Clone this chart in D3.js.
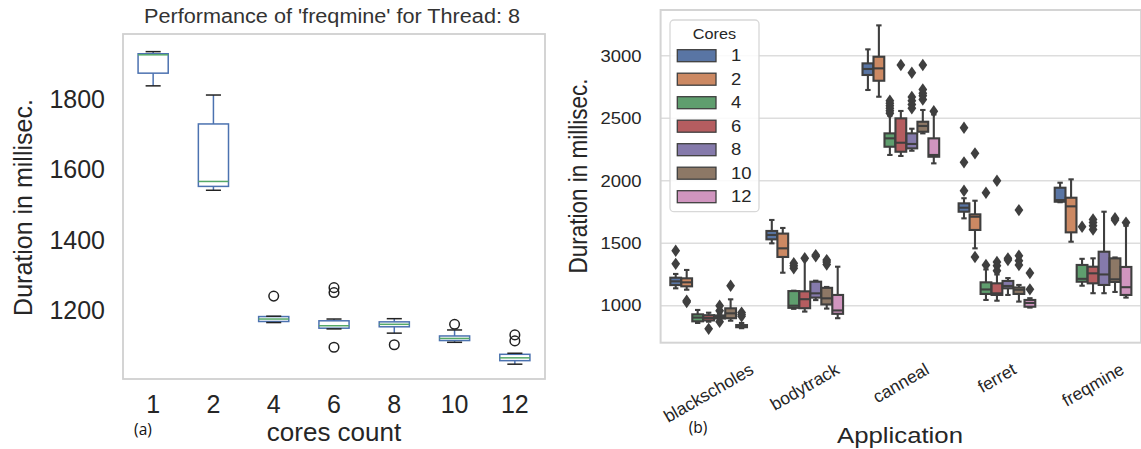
<!DOCTYPE html>
<html><head><meta charset="utf-8">
<script src="https://cdn.jsdelivr.net/npm/d3@7"></script>
<style>
body{margin:0;background:#fff;}
svg{display:block;font-family:"Liberation Sans",Arial,sans-serif;}
</style></head><body>
<svg id="chart" width="1141" height="449"></svg>
<script>
// ---------- Panel (a): freqmine, 8 threads, duration per cores count ----------
const coresA  = ["1","2","4","6","8","10","12"];
const lowA    = [1838, 1542, 1167, 1149, 1137, 1111, 1049];
const q1A     = [1874, 1553, 1170, 1151, 1155, 1116, 1059];
const medA    = [1926, 1567, 1177, 1158, 1162, 1122, 1067];
const q3A     = [1929, 1730, 1184, 1172, 1169, 1129, 1077];
const highA   = [1935, 1812, 1185, 1177, 1178, 1146, 1080];
const fliersA = [[], [], [1242], [1266, 1252, 1097], [1104], [1162], [1132, 1115]];
const ticksA  = [1200, 1400, 1600, 1800];

// ---------- Panel (b): duration per application, grouped by cores ----------
const apps   = ["blackscholes", "bodytrack", "canneal", "ferret", "freqmine"];
const coresB = ["1","2","4","6","8","10","12"];
// one row per cores value: [lower whisker, Q1, median, Q3, upper whisker, outliers]
const blackscholes = [
  [1139, 1165, 1195, 1224, 1254, [1440, 1335]],
  [1128, 1155, 1187, 1219, 1286, [1040, 1030]],
  [862, 875, 905, 931, 966, []],
  [872, 882, 902, 924, 944, [815]],
  [885, 898, 910, 922, 935, [1000, 960, 872]],
  [880, 900, 939, 979, 1051, [1160]],
  [820, 828, 835, 845, 862, [945, 930, 915]]
];
const bodytrack = [
  [1499, 1531, 1566, 1598, 1686, []],
  [1264, 1390, 1459, 1577, 1622, []],
  [975, 983, 1000, 1117, 1120, [1300, 1320, 1340]],
  [953, 980, 1052, 1115, 1365, [1380]],
  [1045, 1065, 1099, 1192, 1200, [1405, 1395]],
  [977, 1010, 1059, 1143, 1150, [1330, 1350, 1365]],
  [900, 935, 962, 1086, 1312, []]
];
const canneal = [
  [2726, 2846, 2894, 2939, 3051, []],
  [2672, 2800, 2899, 2992, 3243, []],
  [2206, 2272, 2339, 2379, 2520, [2540, 2560, 2580, 2600, 2620, 2640]],
  [2198, 2232, 2304, 2499, 2558, [2926]],
  [2240, 2259, 2294, 2379, 2416, [2864, 2580, 2610, 2640, 2670]],
  [2379, 2392, 2438, 2472, 2566, [2926, 2650, 2680, 2700, 2730]],
  [2139, 2192, 2206, 2339, 2530, [2556]]
];
const ferret = [
  [1699, 1752, 1784, 1819, 1860, [1920, 2147, 2424]],
  [1459, 1606, 1712, 1731, 1840, [2219, 1390]],
  [1046, 1094, 1130, 1187, 1290, [1326, 1904]],
  [1040, 1086, 1099, 1179, 1250, [1280, 1320, 1350, 2000]],
  [1086, 1139, 1158, 1198, 1221, [1379, 1365]],
  [1033, 1094, 1128, 1146, 1166, [1326, 1360, 1400, 1765]],
  [985, 992, 1022, 1046, 1060, [1131, 1261]]
];
const freqmine = [
  [1828, 1832, 1845, 1944, 1984, []],
  [1512, 1587, 1795, 1864, 2011, []],
  [1160, 1192, 1215, 1326, 1375, [1632]],
  [1100, 1179, 1259, 1312, 1379, [1610, 1640, 1665, 1690]],
  [1100, 1166, 1250, 1432, 1752, []],
  [1110, 1190, 1211, 1379, 1386, [1686, 1700]],
  [1065, 1086, 1148, 1310, 1640, [1665]]
];
const ticksB  = [1000, 1500, 2000, 2500, 3000];
const palette = ["#5975a4", "#cc8963", "#5f9e6e", "#b55d60", "#857aab", "#8d7866", "#d095bf"];

const byApp = {blackscholes, bodytrack, canneal, ferret, freqmine};

const svg = d3.select("#chart");
svg.append("rect").attr("width", 1141).attr("height", 449).attr("fill", "#fff");
const textColor = "#262626";

// ================= Panel (a) =================
const A = {left: 123, right: 545, top: 34, bottom: 379};
const xA = d3.scaleBand().domain(coresA).range([A.left, A.right]);
const yA = d3.scaleLinear().domain([1007, 1985]).range([A.bottom, A.top]);
const gA = svg.append("g");

gA.append("rect")
  .attr("x", A.left).attr("y", A.top)
  .attr("width", A.right - A.left).attr("height", A.bottom - A.top)
  .attr("fill", "none").attr("stroke", "#d0d0d0").attr("stroke-width", 1.8);

const boxBlue = "#4c72b0", medGreen = "#55a868";
coresA.forEach((c, i) => {
  const cx = xA(c) + xA.bandwidth() / 2;
  const bw = xA.bandwidth() * 0.5;
  const g = gA.append("g");
  g.append("rect")
    .attr("x", cx - bw / 2).attr("y", yA(q3A[i]))
    .attr("width", bw).attr("height", yA(q1A[i]) - yA(q3A[i]))
    .attr("fill", "none").attr("stroke", boxBlue).attr("stroke-width", 1.5);
  g.append("line").attr("x1", cx).attr("x2", cx)
    .attr("y1", yA(highA[i])).attr("y2", yA(q3A[i]))
    .attr("stroke", boxBlue).attr("stroke-width", 1.5);
  g.append("line").attr("x1", cx).attr("x2", cx)
    .attr("y1", yA(q1A[i])).attr("y2", yA(lowA[i]))
    .attr("stroke", boxBlue).attr("stroke-width", 1.5);
  [highA[i], lowA[i]].forEach(v => {
    g.append("line").attr("x1", cx - bw / 4).attr("x2", cx + bw / 4)
      .attr("y1", yA(v)).attr("y2", yA(v))
      .attr("stroke", "#222").attr("stroke-width", 1.5);
  });
  g.append("line").attr("x1", cx - bw / 2).attr("x2", cx + bw / 2)
    .attr("y1", yA(medA[i])).attr("y2", yA(medA[i]))
    .attr("stroke", medGreen).attr("stroke-width", 1.5);
  fliersA[i].forEach(v => {
    g.append("circle").attr("cx", cx).attr("cy", yA(v)).attr("r", 4.8)
      .attr("fill", "none").attr("stroke", "#222").attr("stroke-width", 1.5);
  });
});

const axYA = gA.append("g").attr("transform", `translate(${A.left},0)`)
  .call(d3.axisLeft(yA).tickValues(ticksA).tickFormat(d3.format("d")).tickSize(0).tickPadding(18));
axYA.select(".domain").remove();
axYA.attr("font-family", null).attr("font-size", null);
axYA.selectAll("text").attr("font-size", 25).attr("fill", textColor);

const axXA = gA.append("g").attr("transform", `translate(0,${A.bottom})`)
  .call(d3.axisBottom(xA).tickSize(0).tickPadding(16));
axXA.select(".domain").remove();
axXA.attr("font-family", null).attr("font-size", null);
axXA.selectAll("text").attr("font-size", 25).attr("fill", textColor);

gA.append("text").attr("x", 332).attr("y", 23)
  .attr("text-anchor", "middle").attr("font-size", 19.5).attr("fill", "#333")
  .attr("textLength", 376).attr("lengthAdjust", "spacingAndGlyphs")
  .text("Performance of 'freqmine' for Thread: 8");
gA.append("text").attr("x", 334).attr("y", 441)
  .attr("text-anchor", "middle").attr("font-size", 26).attr("fill", textColor)
  .text("cores count");
gA.append("text")
  .attr("transform", `translate(32,${(A.top + A.bottom) / 2 + 1}) rotate(-90)`)
  .attr("text-anchor", "middle").attr("font-size", 25).attr("fill", textColor)
  .text("Duration in millisec.");
gA.append("text").attr("x", 143).attr("y", 434.5)
  .attr("text-anchor", "middle").attr("font-size", 15.5).attr("fill", "#111")
  .attr("font-family", "'Open Sans', sans-serif")
  .text("(a)");

// ================= Panel (b) =================
const B = {left: 660.6, right: 1141.1, top: 10, bottom: 342.7};
const sx = 1.12; // horizontal text scale of this panel
const xB = d3.scaleBand().domain(apps).range([B.left, B.right]);
const yB = d3.scaleLinear().domain([704, 3366]).range([B.bottom, B.top]);
const hue = d3.scaleBand().domain(coresB)
  .range([-0.4 * xB.bandwidth(), 0.4 * xB.bandwidth()]);
const gB = svg.append("g");
const lineCol = "#3f3f3f";

// grid
gB.append("g").selectAll("line").data(ticksB).join("line")
  .attr("x1", B.left).attr("x2", B.right)
  .attr("y1", d => yB(d)).attr("y2", d => yB(d))
  .attr("stroke", "#dddddd").attr("stroke-width", 1.5);
gB.append("rect")
  .attr("x", B.left).attr("y", B.top)
  .attr("width", B.right - B.left).attr("height", B.bottom - B.top)
  .attr("fill", "none").attr("stroke", "#d4d4d4").attr("stroke-width", 2);

const diamond = "M0,-6.2L4.4,0L0,6.2L-4.4,0Z";
apps.forEach(app => {
  const center = xB(app) + xB.bandwidth() / 2;
  byApp[app].forEach((s, j) => {
    const [lo, q1, med, q3, hi, out] = s;
    const cx = center + hue(coresB[j]) + hue.bandwidth() / 2;
    const w = hue.bandwidth() * 0.98;
    const g = gB.append("g");
    g.append("line").attr("x1", cx).attr("x2", cx)
      .attr("y1", yB(hi)).attr("y2", yB(q3))
      .attr("stroke", lineCol).attr("stroke-width", 2.1);
    g.append("line").attr("x1", cx).attr("x2", cx)
      .attr("y1", yB(q1)).attr("y2", yB(lo))
      .attr("stroke", lineCol).attr("stroke-width", 2.1);
    [hi, lo].forEach(v => {
      g.append("line").attr("x1", cx - w / 4).attr("x2", cx + w / 4)
        .attr("y1", yB(v)).attr("y2", yB(v))
        .attr("stroke", lineCol).attr("stroke-width", 2.1);
    });
    g.append("rect")
      .attr("x", cx - w / 2).attr("y", yB(q3))
      .attr("width", w).attr("height", yB(q1) - yB(q3))
      .attr("fill", palette[j]).attr("stroke", lineCol).attr("stroke-width", 2.1);
    g.append("line").attr("x1", cx - w / 2).attr("x2", cx + w / 2)
      .attr("y1", yB(med)).attr("y2", yB(med))
      .attr("stroke", lineCol).attr("stroke-width", 2.1);
    out.forEach(v => {
      g.append("path").attr("d", diamond)
        .attr("transform", `translate(${cx},${yB(v)})`)
        .attr("fill", lineCol);
    });
  });
});

function stext(parent, x, y, str, size, anchor) {
  return parent.append("text")
    .attr("transform", `translate(${x},${y}) scale(${sx},1)`)
    .attr("text-anchor", anchor).attr("dy", "0.35em")
    .attr("font-size", size).attr("fill", textColor).text(str);
}

// y tick labels
ticksB.forEach(t => stext(gB, 641.5, yB(t), d3.format("d")(t), 16.5, "end"));

// x tick labels, rotated; the rotated box is centred on the tick and hangs below the axis
apps.forEach(app => {
  const g = gB.append("g");
  g.append("text")
    .attr("transform", "rotate(-30)")
    .attr("text-anchor", "middle").attr("dy", "0.35em")
    .attr("font-size", 17.5).attr("fill", textColor).text(app);
  const bb = g.node().getBBox();
  const cx = xB(app) + xB.bandwidth() / 2;
  g.attr("transform", `translate(${cx - (bb.x + bb.width / 2)},${359 - bb.y})`);
});

gB.append("text")
  .attr("transform", `translate(900,443) scale(${sx},1)`)
  .attr("text-anchor", "middle").attr("font-size", 23).attr("fill", textColor)
  .text("Application");
gB.append("text")
  .attr("transform", `translate(587,176) scale(${sx},1) rotate(-90)`)
  .attr("text-anchor", "middle").attr("font-size", 22.5).attr("fill", textColor)
  .text("Duration in millisec.");
gB.append("text").attr("x", 698).attr("y", 433)
  .attr("text-anchor", "middle").attr("font-size", 15.5).attr("fill", "#111")
  .attr("font-family", "'Open Sans', sans-serif")
  .text("(b)");

// legend
const L = {x: 670, y: 20, w: 89, h: 191.7, row0: 55.7, step: 23.5};
const gL = gB.append("g");
gL.append("rect").attr("x", L.x).attr("y", L.y).attr("width", L.w).attr("height", L.h)
  .attr("rx", 4).attr("fill", "#fff").attr("fill-opacity", 0.85)
  .attr("stroke", "#d8d8d8").attr("stroke-width", 1.3);
stext(gL, L.x + L.w / 2, 33.5, "Cores", 14.5, "middle");
coresB.forEach((c, j) => {
  const cy = L.row0 + j * L.step;
  gL.append("rect").attr("x", 677.3).attr("y", cy - 6).attr("width", 38.7).attr("height", 12)
    .attr("fill", palette[j]).attr("stroke", lineCol).attr("stroke-width", 1.3);
  stext(gL, 731, cy, c, 16.5, "start");
});
</script>
</body></html>
